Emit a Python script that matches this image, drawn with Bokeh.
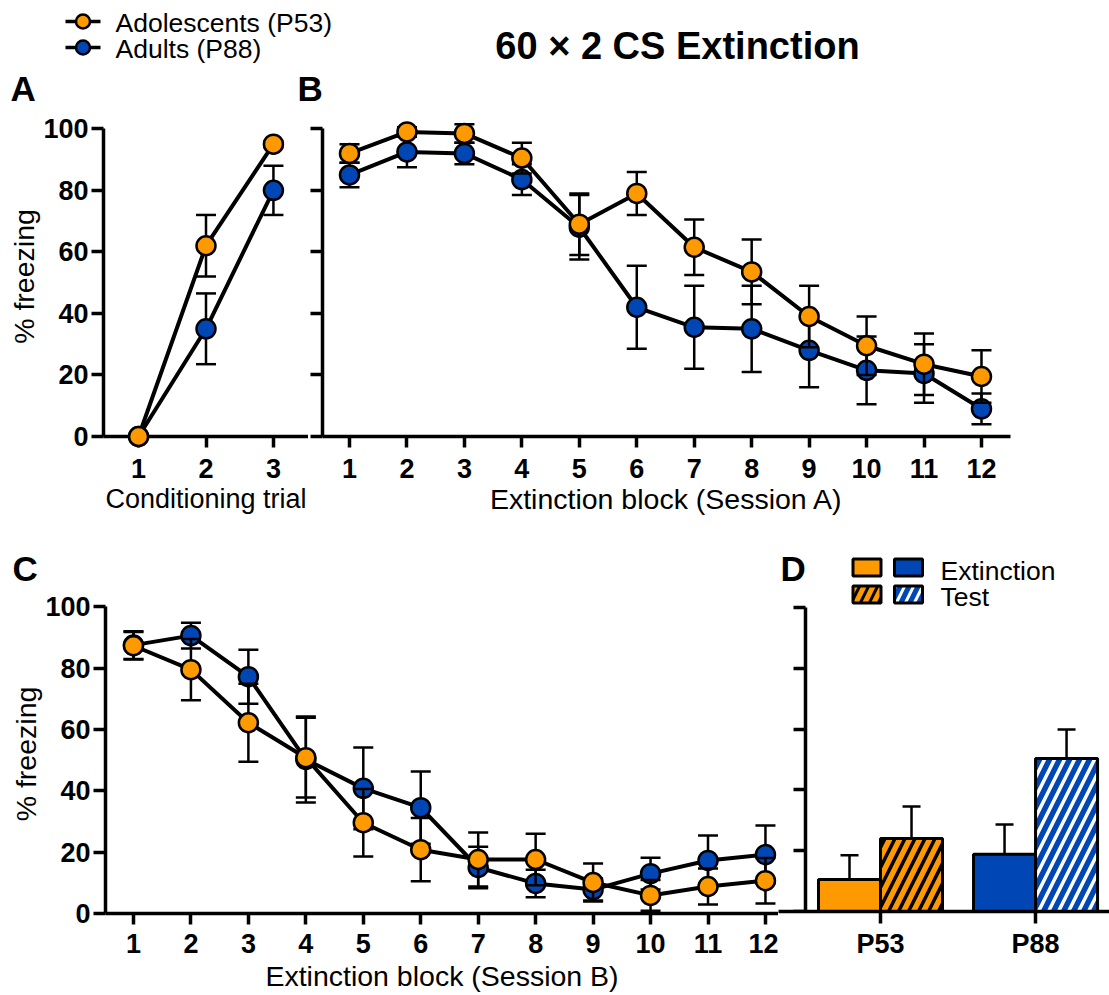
from bokeh.plotting import figure
from bokeh.layouts import column, row
from bokeh.models import Range1d, FixedTicker, Label
from bokeh.embed import file_html
from bokeh.resources import INLINE

ORANGE = "#FF9900"
BLUE = "#0047B5"
FONT = "Liberation Sans"

series_names = ["Adolescents (P53)", "Adults (P88)"]
series_colors = [ORANGE, BLUE]

# Panel A: conditioning
trials = [1, 2, 3]
cond_adol = [0, 62, 95]
cond_adol_sem = [0, 10, 1]
cond_adult = [0, 35, 80]
cond_adult_sem = [0, 11.5, 8]

# Panel B: extinction session A
blocks = [1, 2, 3, 4, 5, 6, 7, 8, 9, 10, 11, 12]
extA_adol = [92, 99, 98.5, 90.5, 69, 79, 61.5, 53.5, 39, 29.5, 23.5, 19.5]
extA_adol_sem = [3, 1.5, 3, 5, 10, 7, 9, 10.5, 10, 9.5, 10, 8.5]
extA_adult = [85, 92.5, 92, 83.5, 68, 42, 35.5, 35, 28, 21.5, 20.5, 9]
extA_adult_sem = [4, 5, 3.5, 5, 10.5, 13.5, 13.5, 14, 12, 11, 9.5, 5]

# Panel C: extinction session B
extB_adol = [87.3, 79.5, 62.2, 50.8, 29.6, 20.8, 17.6, 17.6, 10.1, 5.9, 8.8, 10.7]
extB_adol_sem = [4.5, 10, 12.7, 13, 11, 10.3, 8.8, 8.4, 6.2, 5, 5.9, 7.4]
extB_adult = [87.5, 90.6, 77.2, 50.2, 40.8, 34.5, 15, 9.8, 7.8, 13, 17.3, 19.2]
extB_adult_sem = [4.5, 4.2, 8.8, 14, 13.3, 11.8, 6.8, 4.5, 3.6, 5.2, 8.1, 9.5]

# Panel D: bars
groups = ["P53", "P88"]
bar_ext = [10.5, 18.8]
bar_ext_sem = [8, 9.8]
bar_test = [24, 50.3]
bar_test_sem = [10.5, 9.6]
test_hatch_colors = ["black", "white"]
bar_kinds = ["Extinction", "Test"]

y_ticks = [0, 20, 40, 60, 80, 100]

TICK_FS = "27px"
LABEL_FS = "28.5px"
LETTER_FS = "35px"


def style_axis(ax):
    ax.axis_line_width = 3.5
    ax.axis_line_color = "black"
    ax.major_tick_line_width = 3.5
    ax.major_tick_line_color = "black"
    ax.minor_tick_line_color = None
    ax.major_tick_in = 0
    ax.major_label_text_font = FONT
    ax.major_label_text_font_style = "bold"
    ax.major_label_text_font_size = TICK_FS
    ax.major_label_text_color = "black"
    ax.axis_label_text_font = FONT
    ax.axis_label_text_font_style = "normal"
    ax.axis_label_text_font_size = LABEL_FS
    ax.axis_label_text_color = "black"


def make_fig(width, height, xr, yr, left, right, top, bottom, **kw):
    p = figure(width=width, height=height, x_range=xr, y_range=yr,
               toolbar_location=None, output_backend="svg",
               min_border_left=left, min_border_right=right,
               min_border_top=top, min_border_bottom=bottom, **kw)
    p.outline_line_color = None
    p.xgrid.visible = False
    p.ygrid.visible = False
    p.background_fill_color = "white"
    p.border_fill_color = "white"
    for ax in p.axis:
        style_axis(ax)
    p.yaxis.ticker = FixedTicker(ticks=y_ticks)
    p.yaxis.bounds = (0, 100)
    p.yaxis.major_tick_out = 12
    p.yaxis.major_label_standoff = 3
    p.xaxis.major_tick_out = 11
    p.xaxis.major_label_standoff = 11
    return p


def hide_ylabels(p):
    p.yaxis.major_label_overrides = {t: "" for t in y_ticks}
    p.yaxis.major_label_text_color = None
    p.yaxis.major_label_standoff = 0


def add_series(p, x, y, err, color, level="glyph"):
    xe = [a for a, e in zip(x, err) if e > 0]
    lo = [v - e for v, e in zip(y, err) if e > 0]
    hi = [v + e for v, e in zip(y, err) if e > 0]
    p.segment(x0=xe, y0=lo, x1=xe, y1=hi, line_color="black", line_width=2.5, level=level)
    p.scatter(x=xe + xe, y=lo + hi, marker="dash", size=20, line_color="black",
              line_width=2.5, level=level)
    p.line(x, y, line_color="black", line_width=4, level=level)
    p.scatter(x, y, marker="circle", size=19, fill_color=color, line_color="black",
              line_width=2.5, level=level)


def text_fig(width, height):
    f = figure(width=width, height=height, x_range=Range1d(0, width),
               y_range=Range1d(height, 0), x_axis_type=None, y_axis_type=None,
               toolbar_location=None, output_backend="svg", min_border=0)
    f.outline_line_color = None
    return f


def add_text(f, x, y, text, size, bold=False, align="left", units="data"):
    f.add_layout(Label(x=x, y=y, x_units=units, y_units=units, text=text, text_font=FONT,
                       text_font_style="bold" if bold else "normal",
                       text_font_size=size, text_align=align,
                       text_baseline="alphabetic", text_color="black"))


# ---------------- header (legend, title, letters A/B) ----------------
hdr = text_fig(1109, 112)
key_y = [21, 47]
hdr.segment(x0=[65, 65], y0=key_y, x1=[100, 100], y1=key_y, line_color="black", line_width=3.5)
hdr.scatter(x=[82.5, 82.5], y=key_y, size=14, fill_color=series_colors,
            line_color="black", line_width=2.5)
for name, ky in zip(series_names, [22, 48]):
    add_text(hdr, 115, ky, name, "26.5px")
add_text(hdr, 677, 45.5, "60 \u00d7 2 CS Extinction", "38px", bold=True, align="center")
add_text(hdr, 10, 87.5, "A", LETTER_FS, bold=True)
add_text(hdr, 297, 87.5, "B", LETTER_FS, bold=True)

# ---------------- panel A ----------------
pA = make_fig(308, 428, Range1d(0.48, 3.52), Range1d(0, 104), 103, 0, 4, 104)
pA.xaxis.ticker = FixedTicker(ticks=trials)
pA.yaxis.axis_label = "% freezing"
pA.yaxis.axis_label_standoff = 0
pA.xaxis.axis_label = "Conditioning trial"
pA.xaxis.axis_label_text_font_size = "27px"
pA.xaxis.axis_label_standoff = 3
add_series(pA, trials, cond_adult, cond_adult_sem, BLUE, level="overlay")
add_series(pA, trials, cond_adol, cond_adol_sem, ORANGE, level="overlay")

# ---------------- panel B ----------------
pB = make_fig(801, 428, Range1d(0.53, 12.505), Range1d(0, 104), 14, 99, 4, 104)
pB.xaxis.ticker = FixedTicker(ticks=blocks)
hide_ylabels(pB)
pB.xaxis.axis_label = "Extinction block (Session A)"
pB.xaxis.axis_label_standoff = 2
add_series(pB, blocks, extA_adult, extA_adult_sem, BLUE)
add_series(pB, blocks, extA_adol, extA_adol_sem, ORANGE)

# ---------------- letter C strip ----------------
hdr2 = text_fig(778, 48)
add_text(hdr2, 12, 27.5, "C", LETTER_FS, bold=True)

# ---------------- panel C ----------------
pC = make_fig(778, 407, Range1d(0.513, 12.227), Range1d(0, 104), 105, 0, 6, 82)
pC.xaxis.ticker = FixedTicker(ticks=blocks)
pC.xaxis.major_label_standoff = 9
pC.yaxis.axis_label = "% freezing"
pC.yaxis.axis_label_standoff = 0
pC.xaxis.axis_label = "Extinction block (Session B)"
pC.xaxis.axis_label_standoff = 4
add_series(pC, blocks, extB_adult, extB_adult_sem, BLUE)
add_series(pC, blocks, extB_adol, extB_adol_sem, ORANGE)

# ---------------- panel D ----------------
D_W, D_H, D_BOTTOM = 331, 455, 84
d_xr = Range1d(0.342, 2.477)
d_yr = Range1d(0, (D_H - D_BOTTOM) / 3.04)
pD = make_fig(D_W, D_H, d_xr, d_yr, 0, 0, 0, D_BOTTOM, y_axis_location="right")
group_x = [i + 1 for i in range(len(groups))]
pD.xaxis.ticker = FixedTicker(ticks=group_x)
pD.xaxis.major_label_overrides = {gx: g for gx, g in zip(group_x, groups)}
pD.xaxis.major_tick_out = 12
pD.xaxis.major_label_standoff = 5
hide_ylabels(pD)
pD.yaxis.fixed_location = 0.516
pD.yaxis.major_tick_out = 0
pD.yaxis.major_tick_in = 12

BAR_W = 0.4
for gx, col, hcol, e, es, t, ts in zip(group_x, series_colors, test_hatch_colors,
                                       bar_ext, bar_ext_sem, bar_test, bar_test_sem):
    xe, xt = gx - BAR_W / 2, gx + BAR_W / 2
    pD.vbar(x=[xe], width=BAR_W, top=[e], bottom=0, fill_color=col,
            line_color="black", line_width=3)
    pD.vbar(x=[xt], width=BAR_W, top=[t], bottom=0, fill_color=col,
            hatch_pattern="/", hatch_color=hcol, hatch_scale=20,
            hatch_weight=3.5, line_color="black", line_width=3)
    pD.segment(x0=[xe, xt], y0=[e, t], x1=[xe, xt], y1=[e + es, t + ts],
               line_color="black", line_width=2.5)
    pD.scatter(x=[xe, xt], y=[e + es, t + ts], marker="dash", size=18,
               line_color="black", line_width=2.5)

# legend key for panel D (screen offsets converted through the panel's ranges)
d_ppx = D_W / (d_xr.end - d_xr.start)
d_ppy = (D_H - D_BOTTOM) / (d_yr.end - d_yr.start)
D_LEFT, D_FRAME_BOTTOM = 778, 540 + D_H - D_BOTTOM


def dx(px):
    return d_xr.start + (px - D_LEFT) / d_ppx


def dy(py):
    return (D_FRAME_BOTTOM - py) / d_ppy


key_cols = [dx(866.5), dx(908)]
key_rows = [dy(567), dy(594)]
for ci, col in enumerate(series_colors):
    pD.rect(x=[key_cols[ci]], y=[key_rows[0]], width=28, height=17,
            width_units="screen", height_units="screen",
            fill_color=col, line_color="black", line_width=3)
    pD.rect(x=[key_cols[ci]], y=[key_rows[1]], width=28, height=17,
            width_units="screen", height_units="screen",
            fill_color=col, hatch_pattern="/", hatch_color=test_hatch_colors[ci],
            hatch_scale=18, hatch_weight=3, line_color="black", line_width=3)
for kind, ty in zip(bar_kinds, [570, 596]):
    add_text(pD, 940 - D_LEFT, D_FRAME_BOTTOM - ty, kind, "26.5px", units="screen")
add_text(pD, 780 - D_LEFT, D_FRAME_BOTTOM - 567.5, "D", LETTER_FS, bold=True, units="screen")

layout = column(hdr, row(pA, pB), row(column(row(hdr2), pC), pD))
open("out.html", "w").write(file_html(layout, INLINE))
